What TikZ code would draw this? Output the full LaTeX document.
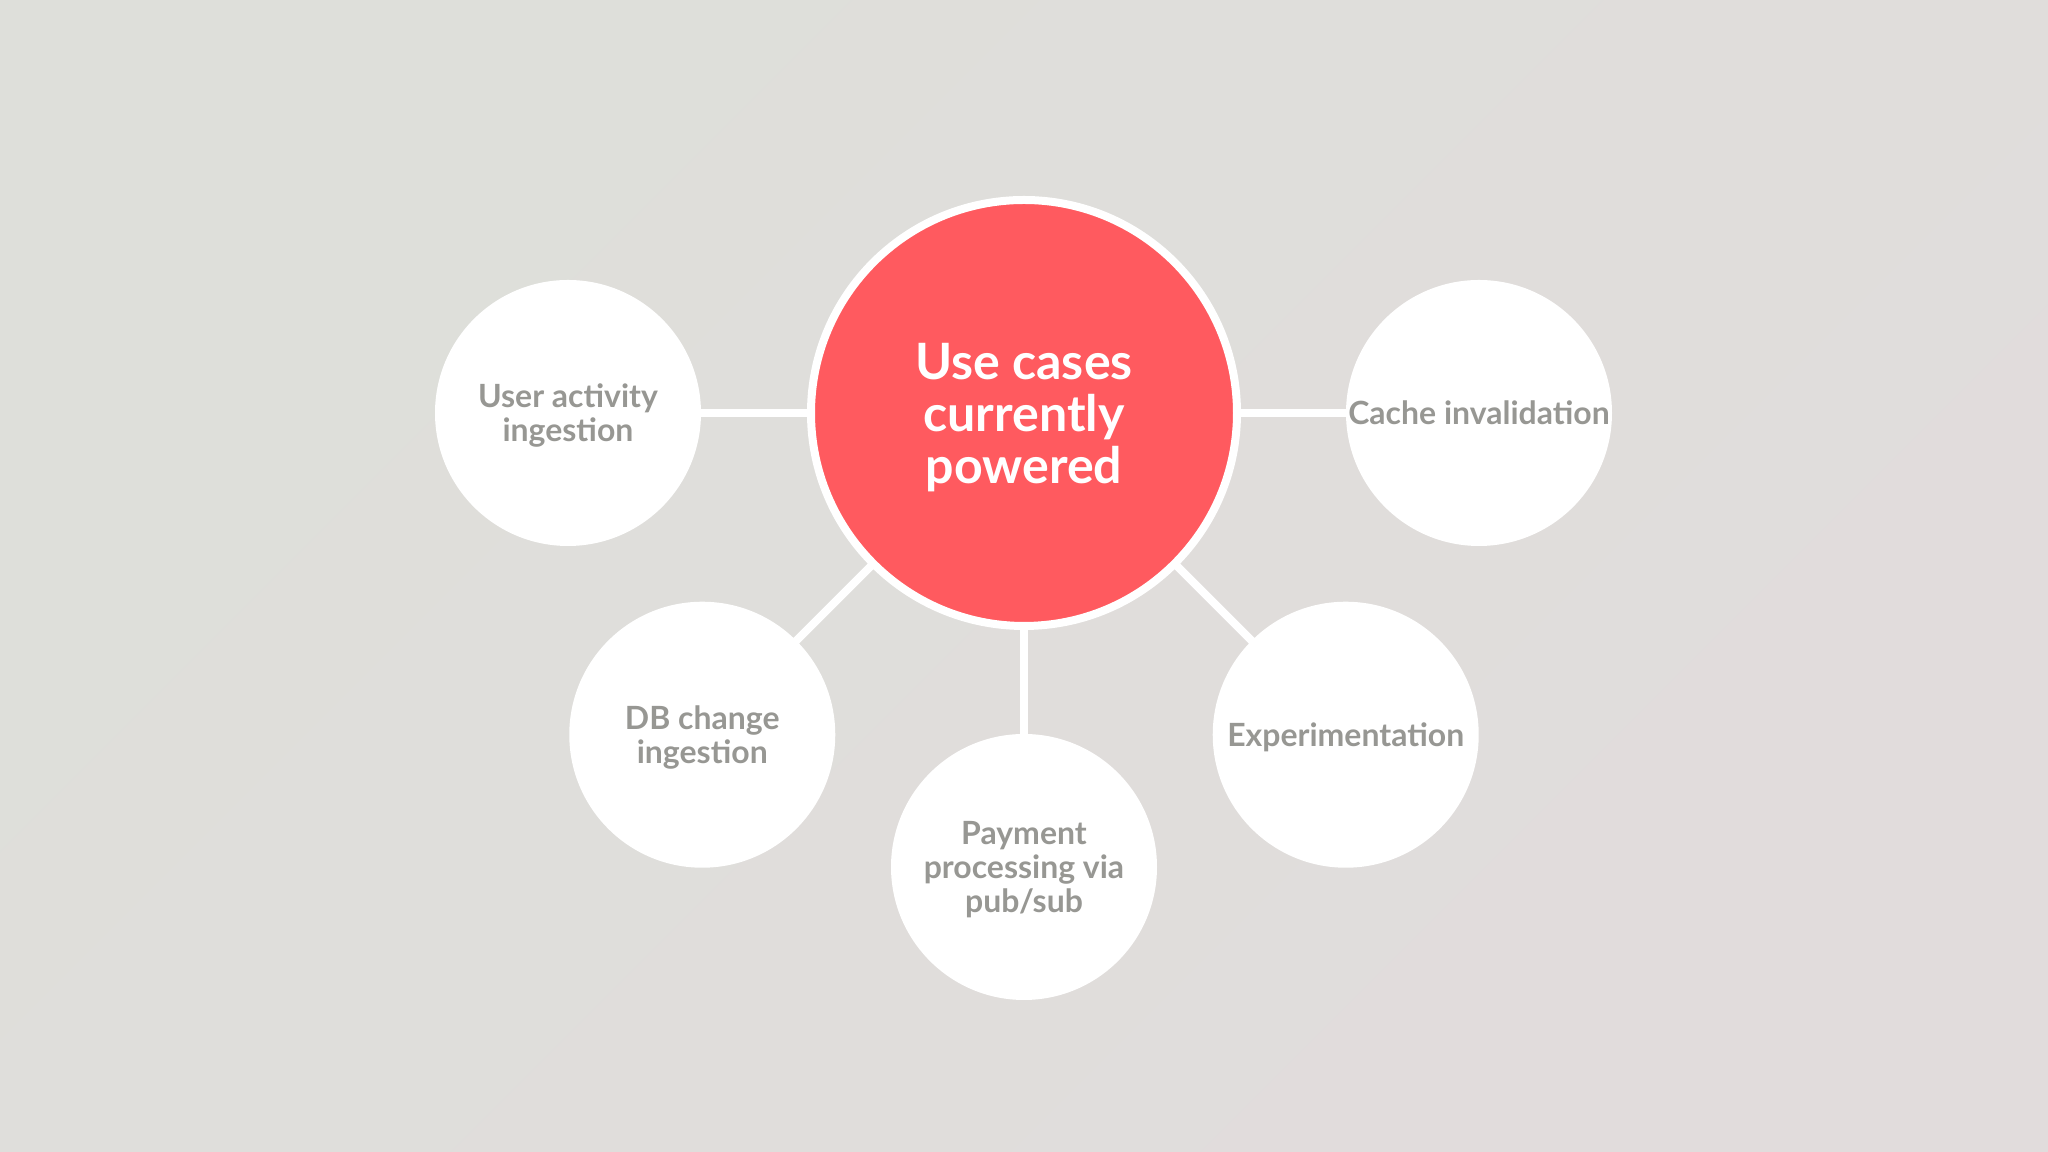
\documentclass[tikz,border=0pt]{standalone}
\usepackage{fontspec}
\setmainfont{Lato}
\usepackage{xcolor}
\usetikzlibrary{positioning, calc}

\definecolor{bgtop}{HTML}{DEDFDA}
\definecolor{bgbot}{HTML}{E1DCDC}
\definecolor{rausch}{HTML}{FF5A5F}
\definecolor{labelgray}{HTML}{979793}

\tikzset{
  hub/.style={circle, fill=rausch, draw=white, line width=0.8mm, minimum size=4.26cm, inner sep=0pt,
    text=white, align=center, font=\bfseries\fontsize{14.25}{14.8}\selectfont, text depth=-1pt},
  usecase/.style={circle, fill=white, minimum size=2.66cm, inner sep=0pt,
    text=labelgray, align=center, font=\bfseries\fontsize{9.1}{9.7}\selectfont, text depth=-0.5pt},
  link/.style={white, line width=0.8mm}
}

\begin{document}
\lineskiplimit=-10pt
\begin{tikzpicture}
      \shade[top color=bgtop, bottom color=bgbot, shading angle=45] (0, 0) rectangle (20.48, 11.52);
      \useasboundingbox (0, 0) rectangle (20.48, 11.52);

      % links first, circles on top
      \coordinate (c) at (10.24, 7.39);
      \coordinate (uap) at ($(c)+(180:4.56)$);
      \coordinate (cip) at ($(c)+(0:4.55)$);
      \coordinate (dbp) at ($(c)+(225:4.55)$);
      \coordinate (ppp) at ($(c)+(270:4.54)$);
      \coordinate (exp) at ($(c)+(315:4.55)$);

      \draw[link] (c) -- (uap);
      \draw[link] (c) -- (cip);
      \draw[link] (c) -- (dbp);
      \draw[link] (c) -- (ppp);
      \draw[link] (c) -- (exp);

      \node[hub] (usecases) at (c) {Use cases\\currently\\powered};
      \node[usecase] (useract) at (uap) {User activity\\ingestion};
      \node[usecase] (cache) at (cip) {Cache invalidation};
      \node[usecase] (dbchange) at (dbp) {DB change\\ingestion};
      \node[usecase] (payment) at (ppp) {Payment\\processing via\\pub/sub};
      \node[usecase] (experiment) at (exp) {Experimentation};

    \end{tikzpicture}
\end{document}
